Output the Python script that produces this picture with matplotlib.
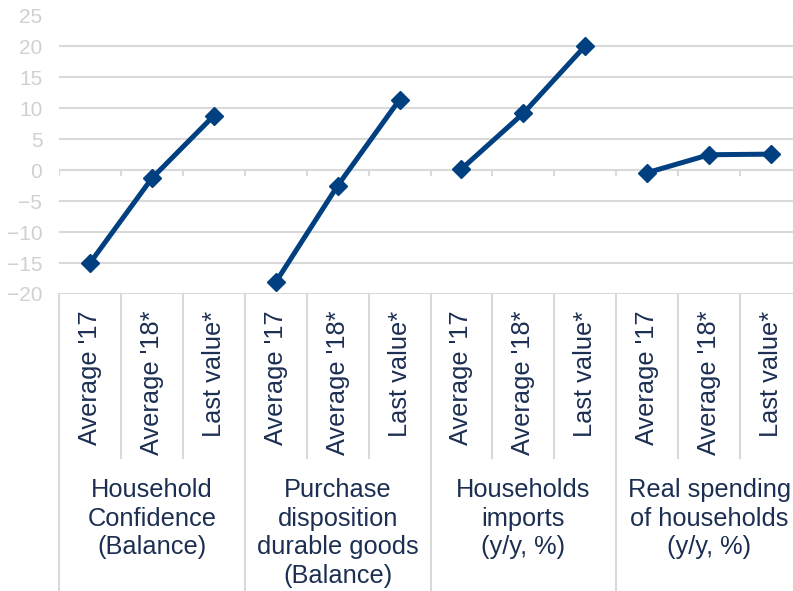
import matplotlib.pyplot as plt

plt.rcParams['font.family'] = ['Liberation Sans', 'DejaVu Sans']

# one line per indicator, three readings each
groups = ["Household\nConfidence\n(Balance)",
          "Purchase\ndisposition\ndurable goods\n(Balance)",
          "Households\nimports\n(y/y, %)",
          "Real spending\nof households\n(y/y, %)"]
periods = ["Average '17", "Average '18*", "Last value*"]
confidence = [-15.0, -1.3, 8.8]
durables = [-18.1, -2.5, 11.4]
imports = [0.2, 9.2, 20.1]
spending = [-0.4, 2.5, 2.6]
series = [confidence, durables, imports, spending]
yticks = list(range(-20, 30, 5))

line_col = '#004080'
text_col = '#1c2f52'
grid_col = '#d9d9d9'

W, H = 793, 591
fig = plt.figure(figsize=(W / 100, H / 100), dpi=100)
left, right, top, bottom = 59, 802, 15.5, 294
ax = fig.add_axes([left / W, 1 - bottom / H, (right - left) / W, (bottom - top) / H])

n = len(periods)
ax.set_xlim(0, n * len(groups))
ax.set_ylim(-20, 25)
for s in ax.spines.values():
    s.set_visible(False)
ax.set_xticks([])
ax.set_yticks(yticks)
ax.tick_params(axis='y', length=0, pad=12, labelsize=15, labelcolor='#d0d0d0')
for y in yticks:
    ax.axhline(y, color=grid_col, lw=1.5, zorder=1)

for g, vals in enumerate(series):
    xs = [g * n + i + 0.5 for i in range(n)]
    ax.plot(xs, vals, color=line_col, lw=3.6, marker='D', ms=9, zorder=3,
            solid_joinstyle='miter')

# small ticks under the zero line
ax.vlines(range(0, n * len(groups) + 1), -1, 0, color=grid_col, lw=1.5, zorder=1)

trans = ax.get_xaxis_transform()


def frac(py):
    return (bottom - py) / (bottom - top)


# separators in the category area
for b in range(n * len(groups) + 1):
    y_end = frac(H + 5) if b % n == 0 else frac(458)
    ax.plot([b, b], [0, y_end], transform=trans, color=grid_col, lw=1.5,
            clip_on=False, zorder=1)

for g, name in enumerate(groups):
    for i, p in enumerate(periods):
        ax.text(g * n + i + 0.5, frac(311), p, transform=trans, rotation=90,
                ha='center', va='top', fontsize=18.3, color=text_col)
    ax.text(g * n + n / 2, frac(478), name, transform=trans, ha='center',
            va='top', fontsize=18.3, color=text_col, linespacing=1.24)

fig.savefig('out.png', dpi=100)
